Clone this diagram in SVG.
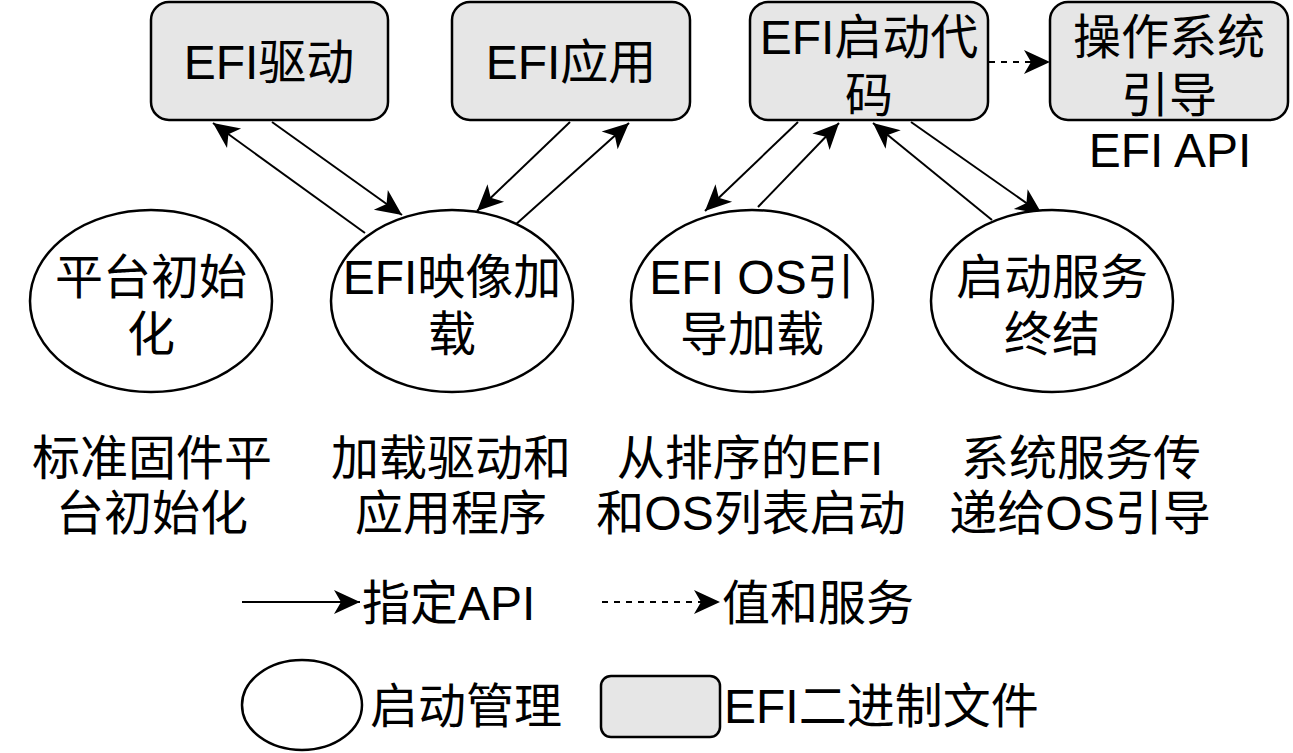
<svg xmlns="http://www.w3.org/2000/svg" width="1293" height="753" viewBox="0 0 1293 753">
<style>
text{font-family:"Liberation Sans","Noto Sans CJK SC",sans-serif;font-size:48px;fill:#000;text-anchor:middle}
.st{text-anchor:start}
.box{fill:#e6e6e6;stroke:#000;stroke-width:2.5}
.ell{fill:#fff;stroke:#000;stroke-width:2.5}
.ln{stroke:#000;stroke-width:2;fill:none;marker-end:url(#ah)}
.dash{stroke-dasharray:6 6}
</style>
<defs>
<marker id="ah" markerUnits="userSpaceOnUse" viewBox="-28 -14 30 28" refX="0" refY="0" markerWidth="30" markerHeight="28" orient="auto">
<path d="M0,0 L-26,-12 L-19,0 L-26,12 Z" fill="#000"/>
</marker>
</defs>
<rect width="1293" height="753" fill="#fff"/>
<g id="connectors">
<line class="ln" x1="365" y1="233" x2="213" y2="123"/>
<line class="ln" x1="272" y1="122" x2="402" y2="215"/>
<line class="ln" x1="570" y1="122" x2="477" y2="211"/>
<line class="ln" x1="514" y1="226" x2="629" y2="123"/>
<line class="ln" x1="798" y1="122" x2="705" y2="211"/>
<line class="ln" x1="758" y1="207" x2="839" y2="123"/>
<line class="ln" x1="992" y1="220" x2="873" y2="123"/>
<line class="ln" x1="911" y1="122" x2="1042" y2="214"/>
<line class="ln dash" x1="989" y1="62" x2="1050" y2="62"/>
</g>
<g id="efi-driver"><rect class="box" x="151" y="2" width="237" height="118" rx="18"/><text x="269" y="79">EFI驱动</text></g>
<g id="efi-app"><rect class="box" x="452" y="2" width="238" height="118" rx="18"/><text x="571" y="79">EFI应用</text></g>
<g id="efi-boot-code"><rect class="box" x="750" y="2" width="238" height="118" rx="18"/><text x="869" y="54">EFI启动代</text><text x="869" y="112">码</text></g>
<g id="os-loader"><rect class="box" x="1050" y="2" width="238" height="118" rx="18"/><text x="1169" y="54">操作系统</text><text x="1169" y="112">引导</text></g>
<g id="efi-api-label"><text x="1170" y="167">EFI API</text></g>
<g id="platform-init"><ellipse class="ell" cx="151" cy="301" rx="121" ry="91"/><text x="151" y="294">平台初始</text><text x="151" y="351">化</text></g>
<g id="image-load"><ellipse class="ell" cx="452" cy="301" rx="121" ry="91"/><text x="452" y="294">EFI映像加</text><text x="452" y="351">载</text></g>
<g id="os-load"><ellipse class="ell" cx="752" cy="301" rx="121" ry="91"/><text x="752" y="294">EFI OS引</text><text x="752" y="351">导加载</text></g>
<g id="boot-services-end"><ellipse class="ell" cx="1052" cy="301" rx="121" ry="91"/><text x="1052" y="294">启动服务</text><text x="1052" y="351">终结</text></g>
<g id="desc1"><text x="152" y="475">标准固件平</text><text x="152" y="530">台初始化</text></g>
<g id="desc2"><text x="451" y="475">加载驱动和</text><text x="451" y="530">应用程序</text></g>
<g id="desc3"><text x="750" y="475">从排序的EFI</text><text x="751" y="530">和OS列表启动</text></g>
<g id="desc4"><text x="1081" y="475">系统服务传</text><text x="1080" y="530">递给OS引导</text></g>
<g id="legend">
<line class="ln" x1="242" y1="602" x2="360" y2="602"/>
<text class="st" x="362" y="620">指定API</text>
<line class="ln dash" x1="602" y1="602" x2="720" y2="602"/>
<text class="st" x="722" y="620">值和服务</text>
<ellipse class="ell" cx="302" cy="705" rx="60" ry="45"/>
<text class="st" x="370" y="723">启动管理</text>
<rect class="box" x="601" y="676" width="119" height="61" rx="10"/>
<text class="st" x="724" y="723">EFI二进制文件</text>
</g>
</svg>
